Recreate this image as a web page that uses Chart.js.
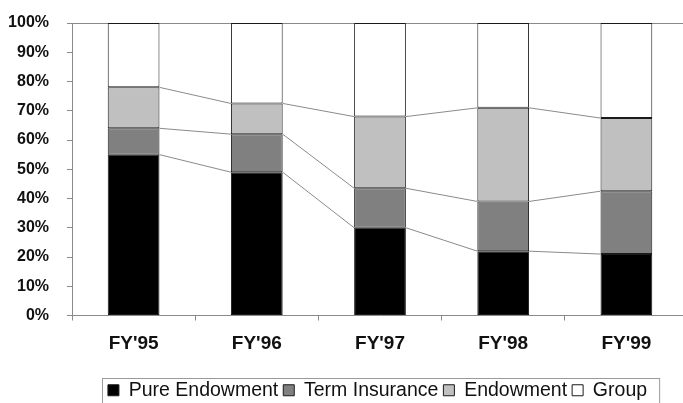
<!DOCTYPE html>
<html>
<head>
<meta charset="utf-8">
<script src="https://cdn.jsdelivr.net/npm/chart.js@4"></script>
<style>
    html, body { margin: 0; padding: 0; background: #fff; overflow: hidden; }
    #wrap { width: 690px; height: 403px; }
</style>
</head>
<body>
<div id="wrap"><canvas id="barChart"></canvas></div>
<script>
var categories = ["FY'95", "FY'96", "FY'97", "FY'98", "FY'99"];
var pureEndowment = [55, 49, 30, 22, 21];
var termInsurance = [9, 13, 13.5, 17, 21.5];
var endowment = [14, 10.5, 24.5, 32, 25];
var group = [22, 27.5, 32, 29, 32.5];
var yTicks = [0, 10, 20, 30, 40, 50, 60, 70, 80, 90, 100];

// Excel style series lines between stacked segments
var seriesLines = {
    id: "seriesLines",
    afterDatasetsDraw: function (chart) {
        var c = chart.ctx;
        c.save();
        c.strokeStyle = "#8a8a8a";
        c.lineWidth = 1;
        for (var d = 0; d < chart.data.datasets.length - 1; d++) {
            var bars = chart.getDatasetMeta(d).data;
            for (var i = 0; i < bars.length - 1; i++) {
                var a = bars[i], b = bars[i + 1];
                c.beginPath();
                c.moveTo(a.x + a.width / 2, a.y);
                c.lineTo(b.x - b.width / 2, b.y);
                c.stroke();
            }
        }
        c.restore();
    },
};

// legend sits right of centre in the original, with a frame round it
var legendFrame = {
    id: "legendFrame",
    afterLayout: function (chart) {
        chart.legend.left += 29;
        chart.legend.right += 29;
    },
    afterDraw: function (chart) {
        var boxes = chart.legend.legendHitBoxes;
        if (!boxes || !boxes.length) return;
        var l = boxes[0].left, r = boxes[boxes.length - 1].left + boxes[boxes.length - 1].width;
        var t = boxes[0].top;
        var c = chart.ctx;
        c.save();
        c.strokeStyle = "#9a9a9a";
        c.lineWidth = 1;
        c.strokeRect(Math.round(l - 6) + 0.5, Math.round(t - 3) + 0.5, r - l + 18, chart.height - t + 10);
        c.restore();
    },
};

function makeSet(label, data, color) {
    return {
        label: label,
        data: data,
        backgroundColor: color,
        borderColor: "#1a1a1a",
        borderWidth: 1,
        borderSkipped: false,
        categoryPercentage: 1,
        barPercentage: 0.42,
    };
}

var ctx1 = document.getElementById("barChart").getContext("2d"),
    myChart = new Chart(ctx1, {
        type: "bar",
        data: {
            labels: categories,
            datasets: [
                makeSet("Pure Endowment", pureEndowment, "#000000"),
                makeSet("Term Insurance", termInsurance, "#808080"),
                makeSet("Endowment", endowment, "#c0c0c0"),
                makeSet("Group", group, "#ffffff"),
            ],
        },
        options: {
            responsive: !0,
            maintainAspectRatio: !1,
            animation: !1,
            layout: { padding: { top: 23, left: 9, right: 2, bottom: -7 } },
            plugins: {
                tooltip: { enabled: !1 },
                legend: {
                    position: "bottom",
                    labels: {
                        color: "#111",
                        font: { family: "Liberation Sans, Arial", size: 19.5 },
                        boxWidth: 11,
                        boxHeight: 11,
                        padding: 5,
                    },
                },
            },
            scales: {
                x: {
                    stacked: !0,
                    afterFit: function (axis) { axis.height = 60; },
                    ticks: {
                        color: "#111",
                        padding: 12,
                        font: { family: "Liberation Sans, Arial", size: 19, weight: "bold" },
                    },
                    grid: {
                        offset: !0,
                        drawOnChartArea: !1,
                        tickLength: 5,
                        tickColor: "#8a8a8a",
                    },
                    border: { color: "#8a8a8a" },
                },
                y: {
                    stacked: !0,
                    min: 0,
                    max: 100,
                    afterFit: function (axis) {
                        axis.width = 63;
                        axis.paddingTop = 0;
                        axis.paddingBottom = 0;
                    },
                    afterBuildTicks: function (axis) {
                        axis.ticks = yTicks.map(function (v) { return { value: v }; });
                    },
                    ticks: {
                        color: "#111",
                        padding: 18,
                        font: { family: "Liberation Sans, Arial", size: 16, weight: "bold" },
                        callback: function (v) { return v + "%"; },
                    },
                    grid: {
                        color: function (c) { return c.tick && c.tick.value === 100 ? "#8a8a8a" : "rgba(0,0,0,0)"; },
                        tickColor: "#8a8a8a",
                        tickLength: 5,
                    },
                    border: { color: "#8a8a8a" },
                },
            },
        },
        plugins: [seriesLines, legendFrame],
    });
</script>
</body>
</html>
